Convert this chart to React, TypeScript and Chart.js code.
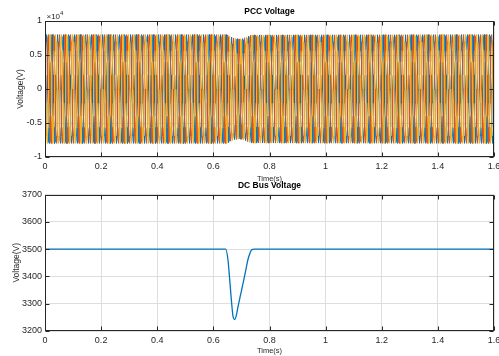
import React, { useEffect, useRef } from "react";
import { Chart, registerables } from "chart.js";

Chart.register(...registerables);

// ---------- data ----------
const timeTicks = [0, 0.2, 0.4, 0.6, 0.8, 1, 1.2, 1.4, 1.6];
const pccTicks = [-10000, -5000, 0, 5000, 10000];
const dcTicks = [3200, 3300, 3400, 3500, 3600, 3700];

// DC bus voltage (s, V)
const dcTime = [0, 0.644, 0.652, 0.658, 0.664, 0.67, 0.676, 0.682, 0.688, 0.697, 0.706, 0.715, 0.723, 0.73, 0.735, 0.741, 0.747, 1.6];
const dcVolt = [3500, 3500, 3461, 3390, 3315, 3254, 3242, 3258, 3290, 3333, 3376, 3420, 3461, 3484, 3495, 3499, 3500, 3500];

// PCC three-phase voltage: 50 Hz carrier, peak envelope (s, V)
const pccFreqHz = 50;
const pccPhaseDeg = [0, -120, 120];
const pccEnvTime = [0, 0.65, 0.66, 0.675, 0.69, 0.705, 0.72, 0.735, 1.6];
const pccEnvPeak = [8000, 8000, 7700, 7450, 7350, 7400, 7700, 7950, 8000];
const pccSamplesPerCycle = 24;
const phaseColors = ["#0072BD", "#D95319", "#EDB120"];

function envelopeAt(t: number): number {
  for (let i = 1; i < pccEnvTime.length; i++) {
    if (t <= pccEnvTime[i]) {
      const t0 = pccEnvTime[i - 1], t1 = pccEnvTime[i];
      const f = (t - t0) / (t1 - t0);
      return pccEnvPeak[i - 1] + f * (pccEnvPeak[i] - pccEnvPeak[i - 1]);
    }
  }
  return pccEnvPeak[pccEnvPeak.length - 1];
}

function phaseSeries(phaseDeg: number) {
  const tEnd = timeTicks[timeTicks.length - 1];
  const n = Math.round(tEnd * pccFreqHz * pccSamplesPerCycle);
  const out: { x: number; y: number }[] = [];
  for (let k = 0; k <= n; k++) {
    const t = (k / n) * tEnd;
    out.push({ x: t, y: envelopeAt(t) * Math.sin(2 * Math.PI * pccFreqHz * t + (phaseDeg * Math.PI) / 180) });
  }
  return out;
}

const FONT = "'Liberation Sans', Arial, Helvetica, sans-serif";
const TEXT = "#262626";

const boxPlugin = {
  id: "matlabBox",
  afterDraw(chart: any, _args: any, opts: any) {
    const { ctx, chartArea: a, scales } = chart;
    ctx.save();
    ctx.strokeStyle = TEXT;
    ctx.lineWidth = 1;
    const L = Math.round(a.left) + 0.5;
    const R = Math.round(a.right) - 0.5;
    const T = Math.round(a.top) + 0.5;
    const B = Math.round(a.bottom) - 0.5;
    ctx.strokeRect(L, T, R - L, B - T);
    const tl = 4;
    ctx.beginPath();
    scales.x.ticks.forEach((t: any) => {
      const px = Math.round(scales.x.getPixelForValue(t.value)) + 0.5;
      ctx.moveTo(px, B); ctx.lineTo(px, B - tl);
      ctx.moveTo(px, T); ctx.lineTo(px, T + tl);
    });
    scales.y.ticks.forEach((t: any) => {
      const py = Math.round(scales.y.getPixelForValue(t.value)) + 0.5;
      ctx.moveTo(L, py); ctx.lineTo(L + tl, py);
      ctx.moveTo(R, py); ctx.lineTo(R - tl, py);
    });
    ctx.stroke();
    if (opts && opts.exponent) {
      ctx.fillStyle = TEXT;
      ctx.textBaseline = "alphabetic";
      ctx.textAlign = "left";
      ctx.font = `8px ${FONT}`;
      ctx.fillText("×10", L + 1, T - 3);
      const w = ctx.measureText("×10").width;
      ctx.font = `6px ${FONT}`;
      ctx.fillText(opts.exponent, L + 1 + w, T - 7);
    }
    ctx.restore();
  },
};

function makeOptions(p: {
  title: string;
  ticksX: number[];
  ticksY: number[];
  yMin: number;
  yMax: number;
  yFmt: (v: number) => string;
  xAxisHeight: number;
  titlePad: { top: number; bottom: number };
  yTitlePad: number;
  exponent?: string;
}) {
  return {
    responsive: false,
    animation: false as const,
    devicePixelRatio: 1,
    events: [],
    layout: { padding: { left: 0, right: 5, top: 0, bottom: 0 } },
    plugins: {
      legend: { display: false },
      tooltip: { enabled: false },
      title: {
        display: true,
        text: p.title,
        color: "#000",
        fullSize: false,
        font: { family: FONT, size: 8.5, weight: "bold" as const, lineHeight: 1.2 },
        padding: p.titlePad,
      },
      matlabBox: { exponent: p.exponent },
    },
    scales: {
      x: {
        type: "linear" as const,
        min: p.ticksX[0],
        max: p.ticksX[p.ticksX.length - 1],
        afterBuildTicks: (s: any) => { s.ticks = p.ticksX.map((v) => ({ value: v })); },
        afterFit: (s: any) => { s.height = p.xAxisHeight; s.paddingLeft = 0; s.paddingRight = 0; },
        ticks: {
          autoSkip: false, maxRotation: 0, padding: 4.5, color: TEXT,
          font: { family: FONT, size: 9 },
          callback: (v: any) => String(v),
        },
        grid: { color: "#dedede", lineWidth: 1, drawTicks: false },
        border: { display: false },
        title: {
          display: true, text: "Time(s)", color: TEXT,
          font: { family: FONT, size: 7.5, lineHeight: 1.2 },
          padding: { top: 0, bottom: 0.5 },
        },
      },
      y: {
        type: "linear" as const,
        min: p.yMin,
        max: p.yMax,
        afterBuildTicks: (s: any) => { s.ticks = p.ticksY.map((v) => ({ value: v })); },
        afterFit: (s: any) => { s.width = 45; s.paddingTop = 0; s.paddingBottom = 0; },
        ticks: {
          autoSkip: false, padding: 3, color: TEXT,
          font: { family: FONT, size: 9 },
          callback: (v: any) => p.yFmt(v),
        },
        grid: { color: "#dedede", lineWidth: 1, drawTicks: false },
        border: { display: false },
        title: {
          display: true, text: "Voltage(V)", color: TEXT,
          font: { family: FONT, size: 8.5, lineHeight: 1.2 },
          padding: { top: p.yTitlePad, bottom: 0 },
        },
      },
    },
  };
}

export default function App() {
  const topRef = useRef<HTMLCanvasElement>(null);
  const botRef = useRef<HTMLCanvasElement>(null);

  useEffect(() => {
    const top = new Chart(topRef.current as HTMLCanvasElement, {
      type: "line",
      data: {
        datasets: pccPhaseDeg.map((ph, i) => ({
          data: phaseSeries(ph),
          borderColor: phaseColors[i],
          borderWidth: 1,
          pointRadius: 0,
          tension: 0,
          fill: false,
          order: pccPhaseDeg.length - i,
        })),
      },
      options: makeOptions({
        title: "PCC Voltage",
        ticksX: timeTicks,
        ticksY: pccTicks,
        yMin: pccTicks[0],
        yMax: pccTicks[pccTicks.length - 1],
        yFmt: (v) => String(v / 10000),
        xAxisHeight: 27,
        titlePad: { top: 7, bottom: 3.8 },
        yTitlePad: 16,
        exponent: "4",
      }) as any,
      plugins: [boxPlugin],
    });

    const bot = new Chart(botRef.current as HTMLCanvasElement, {
      type: "line",
      data: {
        datasets: [
          {
            data: dcTime.map((t, i) => ({ x: t, y: dcVolt[i] })),
            borderColor: phaseColors[0],
            borderWidth: 1.3,
            pointRadius: 0,
            cubicInterpolationMode: "monotone" as const,
            fill: false,
          },
        ],
      },
      options: makeOptions({
        title: "DC Bus Voltage",
        ticksX: timeTicks,
        ticksY: dcTicks,
        yMin: dcTicks[0],
        yMax: dcTicks[dcTicks.length - 1],
        yFmt: (v) => String(v),
        xAxisHeight: 25,
        titlePad: { top: 6, bottom: 3.3 },
        yTitlePad: 12,
      }) as any,
      plugins: [boxPlugin],
    });

    return () => {
      top.destroy();
      bot.destroy();
    };
  }, []);

  return (
    <div style={{ position: "fixed", left: 0, top: 0, width: 499, height: 356, background: "#fff", overflow: "hidden" }}>
      <canvas ref={topRef} width={499} height={184} style={{ position: "absolute", left: 0, top: 0, width: 499, height: 184 }} />
      <canvas ref={botRef} width={499} height={181} style={{ position: "absolute", left: 0, top: 175, width: 499, height: 181 }} />
    </div>
  );
}
